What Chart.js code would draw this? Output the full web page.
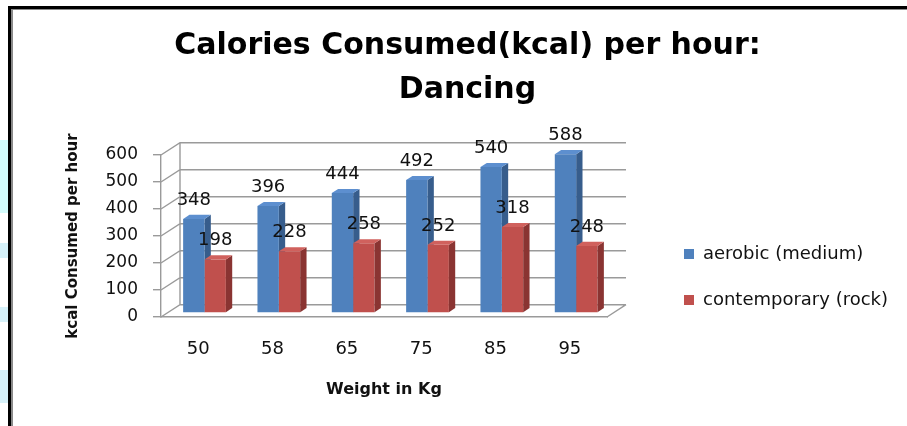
<!DOCTYPE html>
<html>
<head>
<meta charset="utf-8">
<script src="https://cdn.jsdelivr.net/npm/chart.js@4.4.1/dist/chart.umd.min.js"></script>
<style>
  html, body { margin: 0; padding: 0; background: #ffffff; overflow: hidden; }
  canvas { display: block; }
</style>
</head>
<body>
<canvas id="chart" width="907" height="426"></canvas>
<script>
// Body weight categories (kg) and calories burned per hour of dancing
const weights = ['50', '58', '65', '75', '85', '95'];
const aerobicMedium = [348, 396, 444, 492, 540, 588];
const contemporaryRock = [198, 228, 258, 252, 318, 248];
const seriesNames = ['aerobic (medium)', 'contemporary (rock)'];
const yMin = 0;
const yMax = 600;
const yStep = 100;

const FONT = 'DejaVu Sans';
const GRID = '#9a9a9a';

// Perspective offset of the back wall, and the bar depth (a third of it)
const DX = 19, DY = -12.3;
const BX = DX / 3, BY = DY / 3;

const palette = [
  { front: '#4f81bd', side: '#375d8c', top: '#5d8fcf' },
  { front: '#c0504d', side: '#8a3432', top: '#d0615d' }
];

function barFaces(ctx, meta, colors) {
  meta.data.forEach(bar => {
    const { x, y, base, width } = bar.getProps(['x', 'y', 'base', 'width'], true);
    const l = x - width / 2, r = x + width / 2;
    ctx.fillStyle = colors.side;
    ctx.beginPath();
    ctx.moveTo(r, y); ctx.lineTo(r + BX, y + BY);
    ctx.lineTo(r + BX, base + BY); ctx.lineTo(r, base);
    ctx.closePath(); ctx.fill();
    ctx.fillStyle = colors.top;
    ctx.beginPath();
    ctx.moveTo(l, y); ctx.lineTo(r, y);
    ctx.lineTo(r + BX, y + BY); ctx.lineTo(l + BX, y + BY);
    ctx.closePath(); ctx.fill();
  });
}

const depthPlugin = {
  id: 'depth3d',
  beforeDraw(chart) {
    const { ctx, width, height } = chart;
    ctx.save();
    ctx.fillStyle = '#ffffff';
    ctx.fillRect(0, 0, width, height);
    // page edge strips and frame
    ctx.fillStyle = '#d2fbfb';
    ctx.fillRect(0, 140, 8, 73);
    ctx.fillStyle = '#d6f1f9';
    ctx.fillRect(0, 243, 8, 15);
    ctx.fillRect(0, 307, 8, 15);
    ctx.fillRect(0, 370, 8, 33);
    ctx.fillStyle = '#000000';
    ctx.fillRect(8, 6, width - 8, 3);
    ctx.fillRect(8, 6, 3, height - 6);
    ctx.fillStyle = '#8a8a8a';
    ctx.fillRect(11, 9, width - 11, 1);
    ctx.fillRect(11, 9, 2, height - 9);
    ctx.restore();
  },
  beforeDatasetsDraw(chart) {
    const { ctx, chartArea: { left, right }, scales: { y } } = chart;
    const y0 = y.getPixelForValue(yMin);
    const yTop = y.getPixelForValue(yMax);
    ctx.save();
    ctx.strokeStyle = GRID;
    ctx.lineWidth = 1.4;
    ctx.beginPath();
    y.ticks.forEach(t => {
      const py = y.getPixelForValue(t.value);
      ctx.moveTo(left, py);
      ctx.lineTo(left + DX, py + DY);
      ctx.lineTo(right + DX, py + DY);
    });
    ctx.moveTo(left + DX, y0 + DY);
    ctx.lineTo(left + DX, yTop + DY);
    ctx.moveTo(right, y0);
    ctx.lineTo(right + DX, y0 + DY);
    ctx.stroke();
    ctx.restore();

    // bars sit in the middle third of the floor depth
    ctx.save();
    ctx.translate(BX, BY);
    // faces of the first series go down before the second series' fronts
    barFaces(ctx, chart.getDatasetMeta(0), palette[0]);
  },
  afterDatasetDraw(chart, args) {
    if (args.index > 0) {
      barFaces(chart.ctx, args.meta, palette[args.index]);
    }
  },
  afterDatasetsDraw(chart) {
    const ctx = chart.ctx;
    ctx.restore();
    // value labels above each bar
    ctx.save();
    ctx.font = '18px "' + FONT + '"';
    ctx.fillStyle = '#111111';
    ctx.textAlign = 'center';
    ctx.textBaseline = 'middle';
    chart.data.datasets.forEach((ds, i) => {
      const meta = chart.getDatasetMeta(i);
      meta.data.forEach((bar, j) => {
        const { x, y } = bar.getProps(['x', 'y'], true);
        ctx.fillText(String(ds.data[j]), x + BX, y + BY - 19);
      });
    });
    ctx.restore();
  },
  afterDraw(chart) {
    // legend
    const ctx = chart.ctx;
    ctx.save();
    ctx.font = '18px "' + FONT + '"';
    ctx.textBaseline = 'middle';
    ctx.textAlign = 'left';
    chart.data.datasets.forEach((ds, i) => {
      const cy = 254 + i * 46;
      ctx.fillStyle = ds.backgroundColor;
      ctx.fillRect(684, cy - 5, 10, 10);
      ctx.fillStyle = '#111111';
      ctx.fillText(ds.label, 703, cy);
    });
    ctx.restore();
  }
};

new Chart(document.getElementById('chart'), {
  type: 'bar',
  data: {
    labels: weights,
    datasets: [
      { label: seriesNames[0], data: aerobicMedium, backgroundColor: palette[0].front },
      { label: seriesNames[1], data: contemporaryRock, backgroundColor: palette[1].front }
    ]
  },
  options: {
    responsive: false,
    animation: false,
    devicePixelRatio: 1,
    layout: { padding: { left: 28, top: 0, right: 0, bottom: 0 } },
    datasets: {
      bar: { categoryPercentage: 0.575, barPercentage: 1.0, borderWidth: 0, clip: false }
    },
    plugins: {
      legend: { display: false },
      tooltip: { enabled: false },
      title: {
        display: true,
        text: ['Calories Consumed(kcal) per hour:', 'Dancing'],
        color: '#000000',
        font: { family: FONT, size: 30, weight: 'bold', lineHeight: 44 / 30 },
        padding: { top: 24, bottom: 43 }
      }
    },
    scales: {
      x: {
        grid: { display: true, drawOnChartArea: false, drawTicks: false },
        border: { display: true, color: GRID, width: 1.4 },
        ticks: { color: '#111111', font: { family: FONT, size: 18 }, padding: 22 },
        title: {
          display: true, text: 'Weight in Kg', color: '#111111',
          font: { family: FONT, size: 16, weight: 'bold' },
          padding: { top: 0, bottom: 27 }
        },
        afterFit(s) { s.height = 109; }
      },
      y: {
        min: yMin, max: yMax,
        grid: { display: true, drawOnChartArea: false, drawTicks: true, tickLength: 8, color: GRID, lineWidth: 1.4 },
        border: { display: true, color: GRID, width: 1.4 },
        ticks: { stepSize: yStep, color: '#111111', font: { family: FONT, size: 17 }, padding: 15 },
        title: {
          display: true, text: 'kcal Consumed per hour', color: '#111111',
          font: { family: FONT, size: 15, weight: 'bold' },
          padding: { top: 36, bottom: 0 }
        },
        afterFit(s) { s.width = 133; }
      },
      legendSpace: {
        type: 'linear', position: 'right', display: true,
        grid: { display: false }, border: { display: false }, ticks: { display: false },
        afterFit(s) { s.width = 300; }
      }
    }
  },
  plugins: [depthPlugin]
});
</script>
</body>
</html>
